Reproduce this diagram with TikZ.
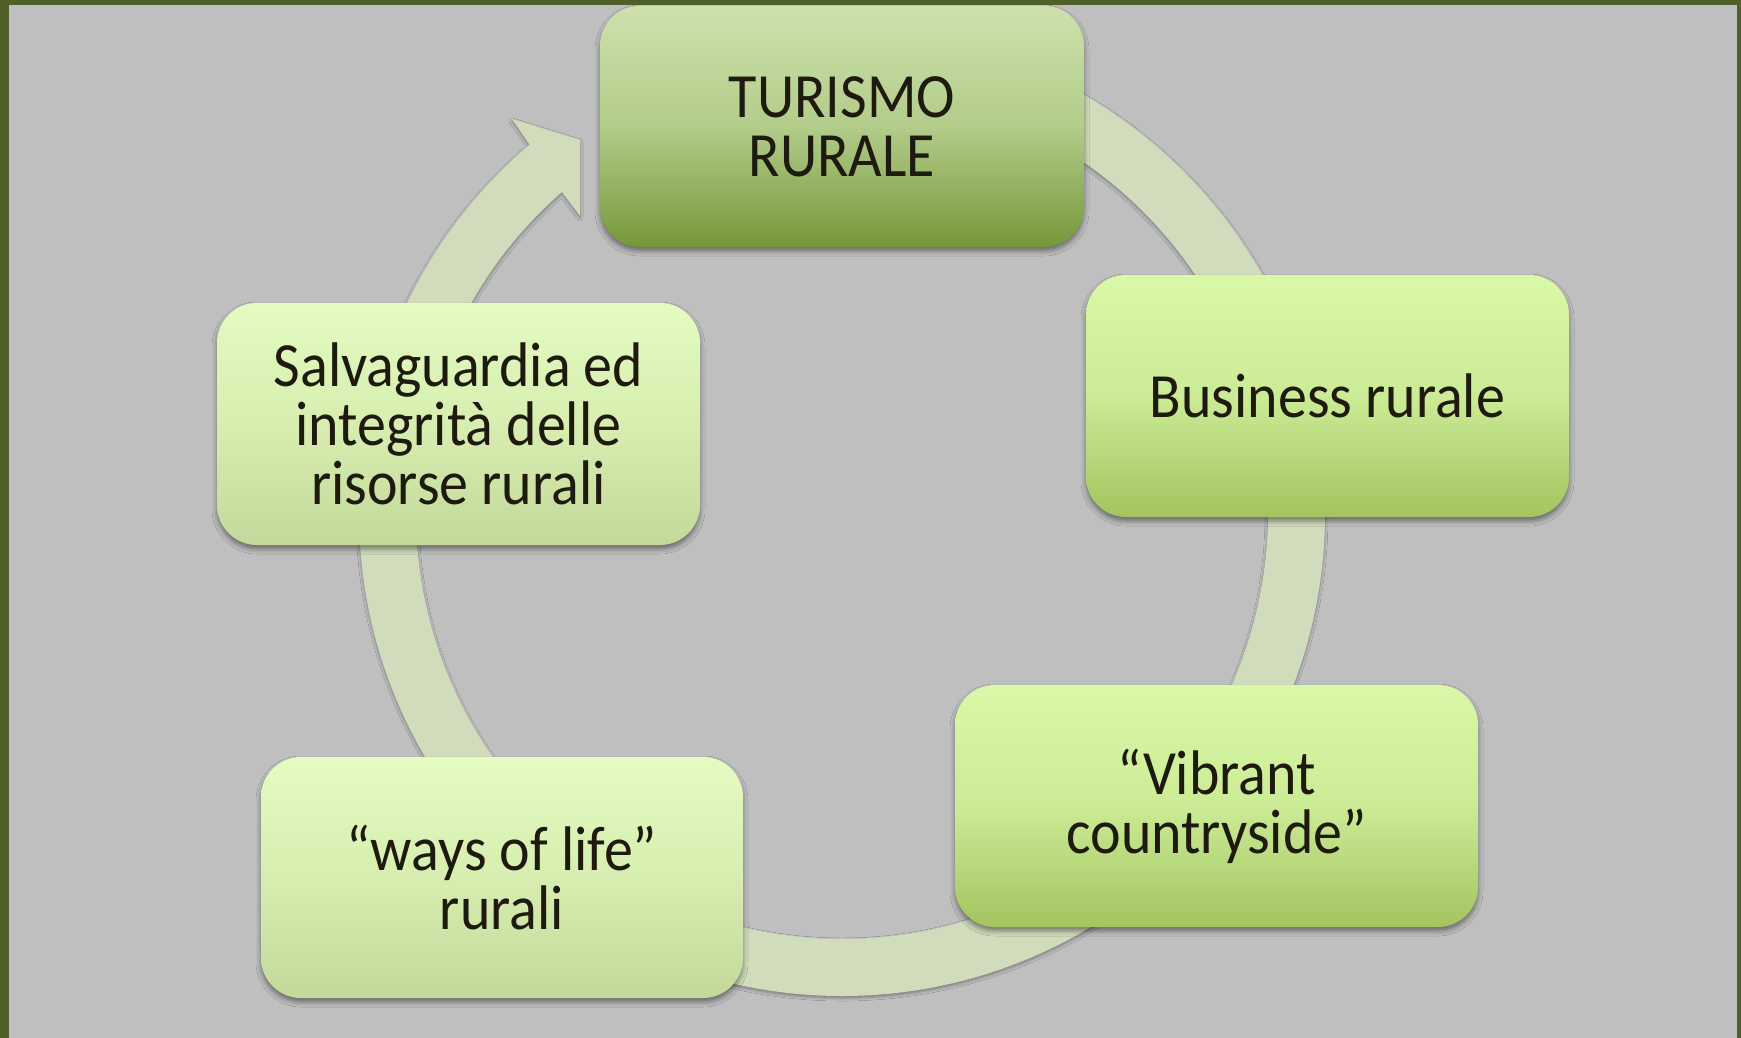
\documentclass[tikz,border=0pt]{standalone}
\usepackage{fontspec}
\newfontfamily\gillfont[FakeStretch=0.92]{Carlito}
\usetikzlibrary{shadows.blur,calc}
\definecolor{bgray}{RGB}{191,191,191}
\definecolor{frameg}{RGB}{78,95,40}
\definecolor{ringc}{RGB}{208,220,188}
\definecolor{txt}{RGB}{30,26,16}
\definecolor{tA}{RGB}{205,226,172}
\definecolor{tB}{RGB}{178,204,138}
\definecolor{tC}{RGB}{118,151,57}
\definecolor{bA}{RGB}{218,249,168}
\definecolor{bB}{RGB}{203,235,150}
\definecolor{bC}{RGB}{163,196,95}
\definecolor{lA}{RGB}{228,251,194}
\definecolor{lB}{RGB}{215,238,176}
\definecolor{lC}{RGB}{194,217,155}
\begin{document}
\begin{tikzpicture}[x=1pt,y=-1pt,
  softshadow/.style={blur shadow={shadow xshift=0pt, shadow yshift=-4pt, shadow blur radius=5pt, shadow opacity=45}},
  boxbase/.style={rectangle, rounded corners=40pt, inner sep=0pt, minimum width=483pt, minimum height=242pt, align=center, text=txt, font=\gillfont\fontsize{63}{59}\selectfont, softshadow},
  topbox/.style={boxbase, top color=tA, bottom color=tC, middle color=tB},
  midbox/.style={boxbase, top color=bA, bottom color=bC, middle color=bB},
  lightbox/.style={boxbase, top color=lA, bottom color=lC, middle color=lB}]
\useasboundingbox (0,0) rectangle (1741,1038);
\fill[frameg] (0,0) rectangle (1741,1038);
\fill[bgray] (9,5) rectangle (1737,1038);
\coordinate (C) at (842,513);
\fill[ringc, blur shadow={shadow xshift=0pt, shadow yshift=-2pt, shadow blur radius=3pt, shadow opacity=35}]
  ($(C)+(-90:483)$) arc[start angle=-90, end angle=229.7, radius=483]
  -- (512,119) -- (580,140) -- (580,216) -- ($(C)+(228.9:426)$)
  arc[start angle=228.9, end angle=-90, radius=426] -- cycle;
\node[topbox, minimum width=484pt, minimum height=241pt] (turismo) at (842,126.5) {TURISMO\\RURALE};
\node[midbox] (business) at (1327.5,396) {Business rurale};
\node[midbox, minimum width=523pt] (vibrant) at (1216.5,806) {“Vibrant\\countryside”};
\node[lightbox, minimum width=482pt, minimum height=241pt] (ways) at (502,877.5) {“ways of life”\\rurali};
\node[lightbox] (salva) at (458.5,424) {Salvaguardia ed\\integrità delle\\risorse rurali};
\end{tikzpicture}
\end{document}
